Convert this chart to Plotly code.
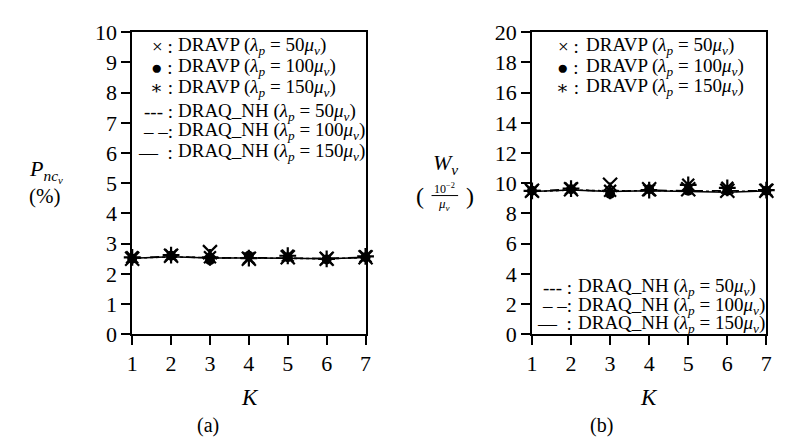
import plotly.graph_objects as go

K = [1, 2, 3, 4, 5, 6, 7]

# Panel (a): P_ncv (%)
a_dravp_50 = [2.50, 2.60, 2.72, 2.50, 2.55, 2.50, 2.55]
a_dravp_100 = [2.50, 2.60, 2.45, 2.60, 2.55, 2.48, 2.55]
a_dravp_150 = [2.55, 2.62, 2.55, 2.52, 2.60, 2.50, 2.58]
a_draq_50 = [2.52, 2.56, 2.54, 2.53, 2.53, 2.50, 2.54]
a_draq_100 = [2.53, 2.58, 2.52, 2.54, 2.52, 2.51, 2.55]
a_draq_150 = [2.52, 2.57, 2.53, 2.53, 2.52, 2.50, 2.54]

# Panel (b): W_v (10^-2 / mu_v)
b_dravp_50 = [9.50, 9.60, 9.90, 9.60, 9.60, 9.50, 9.50]
b_dravp_100 = [9.50, 9.60, 9.30, 9.60, 9.50, 9.50, 9.50]
b_dravp_150 = [9.50, 9.65, 9.50, 9.55, 9.90, 9.70, 9.55]
b_draq_50 = [9.45, 9.55, 9.50, 9.50, 9.50, 9.45, 9.50]
b_draq_100 = [9.50, 9.60, 9.45, 9.55, 9.50, 9.50, 9.50]
b_draq_150 = [9.45, 9.55, 9.45, 9.50, 9.45, 9.40, 9.50]

ya_ticks = list(range(0, 11))
yb_ticks = list(range(0, 21, 2))

FONT = "Liberation Serif, Times New Roman, DejaVu Serif, serif"
W, H = 787, 445

fig = go.Figure()

def add_panel(xa, ya, d50, d100, d150, q50, q100, q150):
    for y, dash in [(q50, "dot"), (q100, "dash"), (q150, "solid")]:
        fig.add_trace(go.Scatter(x=K, y=y, mode="lines", xaxis=xa, yaxis=ya,
                                 line=dict(color="black", width=1.5, dash=dash),
                                 showlegend=False, cliponaxis=False))
    fig.add_trace(go.Scatter(x=K, y=d50, mode="markers", xaxis=xa, yaxis=ya,
                             marker=dict(symbol="x-thin-open", size=14, color="black",
                                         line=dict(color="black", width=2.2)),
                             showlegend=False, cliponaxis=False))
    fig.add_trace(go.Scatter(x=K, y=d100, mode="markers", xaxis=xa, yaxis=ya,
                             marker=dict(symbol="circle", size=10, color="black"),
                             showlegend=False, cliponaxis=False))
    fig.add_trace(go.Scatter(x=K, y=d150, mode="markers", xaxis=xa, yaxis=ya,
                             marker=dict(symbol="asterisk-open", size=14, color="black",
                                         line=dict(color="black", width=2.2)),
                             showlegend=False, cliponaxis=False))

add_panel("x", "y", a_dravp_50, a_dravp_100, a_dravp_150, a_draq_50, a_draq_100, a_draq_150)
add_panel("x2", "y2", b_dravp_50, b_dravp_100, b_dravp_150, b_draq_50, b_draq_100, b_draq_150)

def px(x):
    return x / W

def py(y):
    return 1 - y / H

axis_common = dict(showgrid=False, zeroline=False, showline=True, linecolor="black",
                   linewidth=1.5, mirror=True, ticks="outside", ticklen=9, tickwidth=1.5,
                   tickcolor="black", tickfont=dict(family=FONT, size=22, color="black"))

fig.update_layout(
    width=W, height=H, margin=dict(l=0, r=0, t=0, b=0),
    plot_bgcolor="white", paper_bgcolor="white", showlegend=False,
    font=dict(family=FONT, color="black"),
    xaxis=dict(domain=[px(120), px(357)], range=[1, 7], tickvals=K, anchor="y", **axis_common),
    yaxis=dict(domain=[py(333), py(13)], range=[0, 10], tickvals=ya_ticks, anchor="x", **axis_common),
    xaxis2=dict(domain=[px(526), px(764)], range=[1, 7], tickvals=K, anchor="y2", **axis_common),
    yaxis2=dict(domain=[py(333), py(13)], range=[0, 20], tickvals=yb_ticks, anchor="x2", **axis_common),
)

ann = []

def text(x, y, s, size=19, xanchor="left", italic=False):
    ann.append(dict(x=px(x), y=py(y), xref="paper", yref="paper", text=s, showarrow=False,
                    xanchor=xanchor, yanchor="middle",
                    font=dict(family=FONT, size=size, color="black",
                              style="italic" if italic else "normal")))

lam = "(<i>λ<sub>p</sub></i> = {}<i>μ<sub>v</sub></i>)"
legend_rows = [("× :", "DRAVP " + lam.format(50)),
               ("● :", "DRAVP " + lam.format(100)),
               ("∗ :", "DRAVP " + lam.format(150)),
               ("--- :", "DRAQ_NH " + lam.format(50)),
               ("– –:", "DRAQ_NH " + lam.format(100)),
               ("—  :", "DRAQ_NH " + lam.format(150))]

# panel (a) legend
ya_rows = [28, 50, 72, 97, 118, 140]
for (sym, lbl), y in zip(legend_rows, ya_rows):
    text(163, y, sym, xanchor="right")
    text(165, y, lbl)

# panel (b) legend
yb_rows = [28, 50, 71, 283, 303, 322]
for i, ((sym, lbl), y) in enumerate(zip(legend_rows, yb_rows)):
    if i < 3:
        text(576, y, sym, xanchor="right")
        text(579, y, lbl)
    else:
        text(569, y, sym, xanchor="right")
        text(571, y, lbl)

# axis titles
text(32, 160, "<i>P<sub>nc<sub>v</sub></sub></i>", size=22, xanchor="center")
text(31, 186, "(%)", size=21, xanchor="center")
text(438, 153, "<i>W<sub>v</sub></i>", size=22, xanchor="center")
text(412, 186, "(", size=24, xanchor="center")
text(463, 186, ")", size=24, xanchor="center")
text(437, 178, "10<sup>−2</sup>", size=12, xanchor="center")
text(437, 195, "<i>μ<sub>v</sub></i>", size=13, xanchor="center")
fig.add_shape(type="line", xref="paper", yref="paper", x0=px(424), x1=px(451),
              y0=py(186), y1=py(186), line=dict(color="black", width=1))

text(240, 400, "K", size=23, xanchor="center", italic=True)
text(645, 400, "K", size=23, xanchor="center", italic=True)
text(197, 430, "(a)", size=20, xanchor="center")
text(597, 430, "(b)", size=20, xanchor="center")

fig.update_layout(annotations=ann)
fig.write_html("out.html")
